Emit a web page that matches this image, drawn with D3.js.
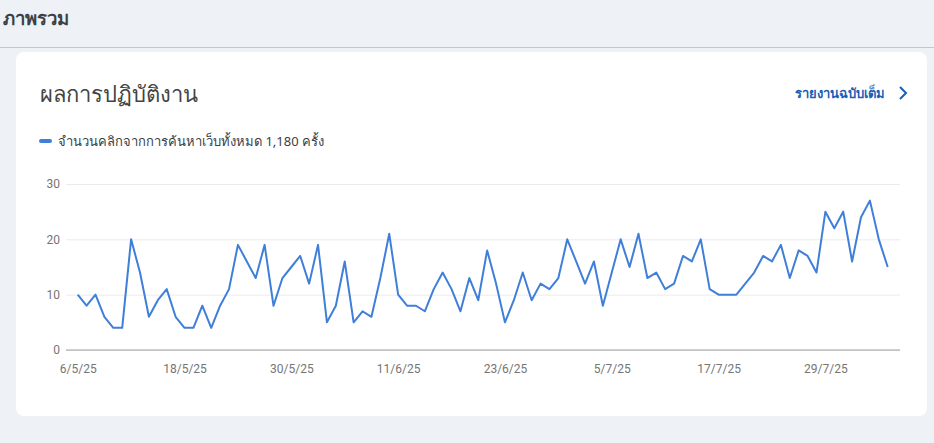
<!DOCTYPE html>
<html>
<head>
<meta charset="utf-8">
<script src="https://cdn.jsdelivr.net/npm/d3@7"></script>
<style>
  html, body { margin: 0; padding: 0; background: #eef1f6; }
  svg { display: block; font-family: "Noto Sans", Roboto, sans-serif; }
</style>
</head>
<body>
<svg id="chart" width="934" height="443"></svg>
<script>
// Data: daily web search clicks, 6/5/2025 .. 5/8/2025
const startDate = new Date(2025, 4, 6);
const clicks = [
  10, 8, 10, 6, 4, 4, 20, 14, 6, 9,
  11, 6, 4, 4, 8, 4, 8, 11, 19, 16,
  13, 19, 8, 13, 15, 17, 12, 19, 5, 8,
  16, 5, 7, 6, 13, 21, 10, 8, 8, 7,
  11, 14, 11, 7, 13, 9, 18, 12, 5, 9,
  14, 9, 12, 11, 13, 20, 16, 12, 16, 8,
  14, 20, 15, 21, 13, 14, 11, 12, 17, 16,
  20, 11, 10, 10, 10, 12, 14, 17, 16, 19,
  13, 18, 17, 14, 25, 22, 25, 16, 24, 27,
  20, 15
];
const yTicks = [0, 10, 20, 30];
const tickEvery = 12;

const data = clicks.map((v, i) => ({ date: d3.timeDay.offset(startDate, i), value: v }));
const total = d3.sum(clicks);

const svg = d3.select("#chart");

// page header
svg.append("text")
    .attr("x", 3).attr("y", 25)
    .attr("font-size", 18.5).attr("font-weight", 700)
    .attr("fill", "#3c4043")
    .text("ภาพรวม");

svg.append("line")
    .attr("x1", 0).attr("x2", 934)
    .attr("y1", 47.5).attr("y2", 47.5)
    .attr("stroke", "#c4c7cc");

// card
svg.append("rect")
    .attr("x", 16).attr("y", 52)
    .attr("width", 911).attr("height", 364)
    .attr("rx", 8)
    .attr("fill", "#fff");

svg.append("text")
    .attr("x", 40).attr("y", 102)
    .attr("font-size", 22)
    .attr("fill", "#444")
    .text("ผลการปฏิบัติงาน");

svg.append("text")
    .attr("x", 885).attr("y", 98)
    .attr("text-anchor", "end")
    .attr("font-size", 13).attr("font-weight", 600)
    .attr("fill", "#1a5fb4")
    .text("รายงานฉบับเต็ม");

svg.append("path")
    .attr("d", "M900,87 L906,93 L900,99")
    .attr("fill", "none")
    .attr("stroke", "#1a5fb4")
    .attr("stroke-width", 2);

// legend
svg.append("line")
    .attr("x1", 41).attr("x2", 50)
    .attr("y1", 141).attr("y2", 141)
    .attr("stroke", "#3f7fd9")
    .attr("stroke-width", 4)
    .attr("stroke-linecap", "round");

svg.append("text")
    .attr("x", 58).attr("y", 146)
    .attr("font-size", 13)
    .attr("fill", "#3c4043")
    .text(`จำนวนคลิกจากการค้นหาเว็บทั้งหมด ${d3.format(",")(total)} ครั้ง`);

// scales
const x = d3.scaleTime()
    .domain(d3.extent(data, d => d.date))
    .range([77.7, 887.7]);

const y = d3.scaleLinear()
    .domain([0, 30])
    .range([350, 184]);

const gridLeft = 66, gridRight = 900;

// gridlines + y labels
const yAxis = svg.append("g")
    .attr("transform", `translate(${gridLeft},0)`)
    .call(d3.axisLeft(y).tickValues(yTicks).tickSize(-(gridRight - gridLeft)).tickPadding(6));
yAxis.select(".domain").remove();
yAxis.selectAll(".tick line").attr("stroke", "#ebebeb");
yAxis.selectAll(".tick text")
    .attr("fill", "#757575")
    .attr("font-size", 12)
    .attr("font-family", "Roboto, sans-serif");

// x axis
const xTickValues = data.filter((d, i) => i % tickEvery === 0).map(d => d.date);
const xAxis = svg.append("g")
    .attr("transform", "translate(0,350)")
    .call(d3.axisBottom(x)
        .tickValues(xTickValues)
        .tickSize(0)
        .tickPadding(14)
        .tickFormat(d => `${d.getDate()}/${d.getMonth() + 1}/${String(d.getFullYear()).slice(2)}`));
xAxis.select(".domain").remove();
xAxis.selectAll(".tick text")
    .attr("fill", "#757575")
    .attr("font-size", 12)
    .attr("font-family", "Roboto, sans-serif");

svg.append("line")
    .attr("x1", gridLeft).attr("x2", gridRight)
    .attr("y1", y(0)).attr("y2", y(0))
    .attr("stroke", "#9e9e9e")
    .attr("stroke-width", 1);

// line
const line = d3.line()
    .x(d => x(d.date))
    .y(d => y(d.value));

svg.append("path")
    .datum(data)
    .attr("fill", "none")
    .attr("stroke", "#3f7fd9")
    .attr("stroke-width", 2)
    .attr("stroke-linejoin", "round")
    .attr("d", line);
</script>
</body>
</html>
